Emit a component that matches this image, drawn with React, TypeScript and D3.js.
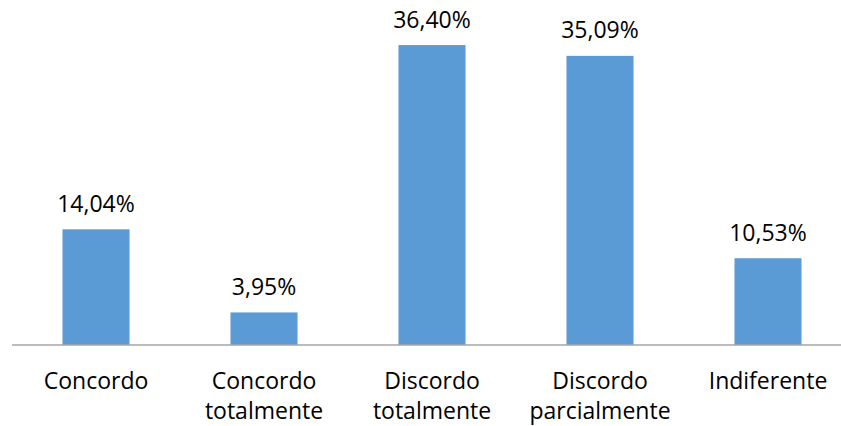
import React from "react";
import * as d3 from "d3";

const categories: string[][] = [
  ["Concordo"],
  ["Concordo", "totalmente"],
  ["Discordo", "totalmente"],
  ["Discordo", "parcialmente"],
  ["Indiferente"],
];
const values: number[] = [14.04, 3.95, 36.4, 35.09, 10.53];
const labels: string[] = ["14,04%", "3,95%", "36,40%", "35,09%", "10,53%"];

const W = 841;
const H = 426;
const FONT = "'Open Sans', 'Liberation Sans', sans-serif";

export default function App() {
  const keys = categories.map((c) => c.join(" "));
  const x = d3
    .scaleBand<string>()
    .domain(keys)
    .range([12, 852])
    .paddingInner(0.601)
    .paddingOuter(0.3005);
  const y = d3.scaleLinear().domain([0, 40]).range([345, 15.4]);

  return (
    <div style={{ position: "fixed", left: 0, top: 0 }}>
      <svg width={W} height={H} style={{ display: "block", background: "#fff" }}>
        {values.map((v, i) => (
          <rect
            key={keys[i]}
            x={x(keys[i])}
            y={y(v)}
            width={x.bandwidth()}
            height={y(0) - y(v)}
            fill="#5b9bd5"
          />
        ))}
        <line x1={12} x2={W} y1={y(0)} y2={y(0)} stroke="#a6a6a6" strokeWidth={1.3} />
        {values.map((v, i) => (
          <text
            key={"l" + i}
            x={(x(keys[i]) as number) + x.bandwidth() / 2}
            y={y(v) - 17.5}
            textAnchor="middle"
            fontFamily={FONT}
            fontSize={23}
            fill="#000"
          >
            {labels[i]}
          </text>
        ))}
        {categories.map((lines, i) => (
          <text
            key={"c" + i}
            textAnchor="middle"
            fontFamily={FONT}
            fontSize={23}
            fill="#000"
          >
            {lines.map((ln, j) => (
              <tspan
                key={j}
                x={(x(keys[i]) as number) + x.bandwidth() / 2}
                y={389 + j * 30}
              >
                {ln}
              </tspan>
            ))}
          </text>
        ))}
      </svg>
    </div>
  );
}
